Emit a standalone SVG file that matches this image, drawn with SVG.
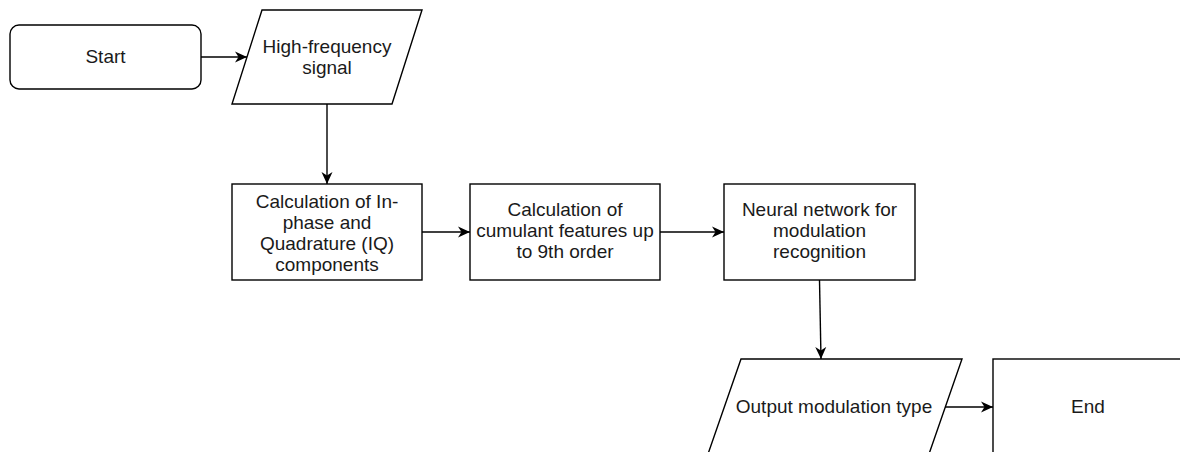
<svg xmlns="http://www.w3.org/2000/svg" width="1180" height="452" viewBox="0 0 1180 452">
<style>
.shape{fill:#ffffff;stroke:#000000;stroke-width:1.4}
.lbl{font-family:"Liberation Sans",Arial,sans-serif;font-size:19px;fill:#1a1a1a;text-anchor:middle}
.edge{fill:none;stroke:#000000;stroke-width:1.4}
</style>
<defs>
<marker id="arrow" markerUnits="userSpaceOnUse" markerWidth="13" markerHeight="12" refX="12" refY="6" orient="auto">
<path d="M0,0.5 L12,6 L0,11.5 L3.5,6 Z" fill="#000000"/>
</marker>
</defs>
<rect width="1180" height="452" fill="#ffffff"/>
<g id="start">
<rect class="shape" x="10" y="25" width="191" height="64" rx="9" ry="9"/>
<text class="lbl" x="105.5" y="63">Start</text>
</g>
<g id="hf-signal">
<polygon class="shape" points="262,10 422,10 392,104 232,104"/>
<text class="lbl" x="327" y="53">High-frequency</text>
<text class="lbl" x="327" y="74">signal</text>
</g>
<g id="iq">
<rect class="shape" x="232" y="184" width="190" height="96"/>
<text class="lbl" x="327" y="208">Calculation of In-</text>
<text class="lbl" x="327" y="229">phase and</text>
<text class="lbl" x="327" y="250">Quadrature (IQ)</text>
<text class="lbl" x="327" y="271">components</text>
</g>
<g id="cumulant">
<rect class="shape" x="470" y="184" width="190" height="96"/>
<text class="lbl" x="565" y="216">Calculation of</text>
<text class="lbl" x="565" y="237">cumulant features up</text>
<text class="lbl" x="565" y="258">to 9th order</text>
</g>
<g id="neural">
<rect class="shape" x="724" y="184" width="191" height="96"/>
<text class="lbl" x="819.5" y="216">Neural network for</text>
<text class="lbl" x="819.5" y="237">modulation</text>
<text class="lbl" x="819.5" y="258">recognition</text>
</g>
<g id="output">
<polygon class="shape" points="741,359 962,359 929,454 708,454"/>
<text class="lbl" x="834" y="413">Output modulation type</text>
</g>
<g id="end">
<rect class="shape" x="993" y="359" width="190" height="95"/>
<text class="lbl" x="1088" y="413">End</text>
</g>
<g id="connectors">
<path class="edge" d="M201,57 L247,57" marker-end="url(#arrow)"/>
<path class="edge" d="M327,104 L327,184" marker-end="url(#arrow)"/>
<path class="edge" d="M422,232 L470,232" marker-end="url(#arrow)"/>
<path class="edge" d="M660,232 L724,232" marker-end="url(#arrow)"/>
<path class="edge" d="M819.5,280 L821,359" marker-end="url(#arrow)"/>
<path class="edge" d="M945,407 L993,407" marker-end="url(#arrow)"/>
</g>
</svg>
